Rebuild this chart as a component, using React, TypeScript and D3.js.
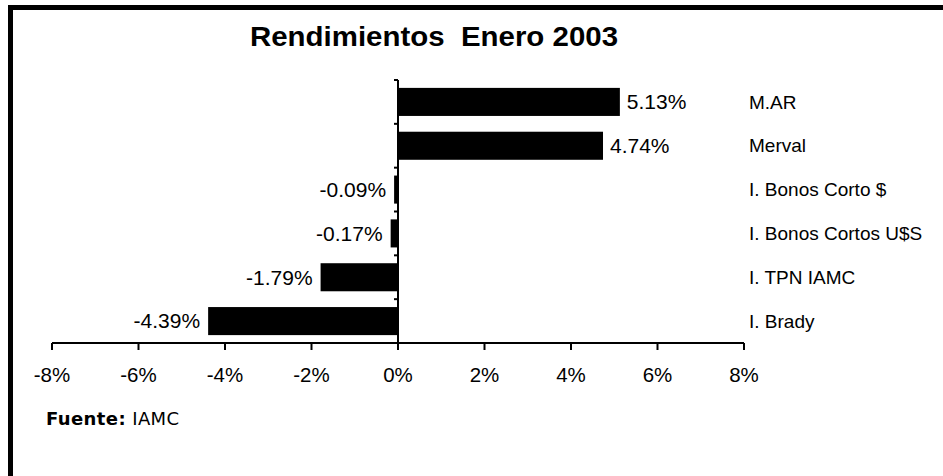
import React from "react";
import * as d3 from "d3";

const categories = ["M.AR", "Merval", "I. Bonos Corto $", "I. Bonos Cortos U$S", "I. TPN IAMC", "I. Brady"];
const values = [5.13, 4.74, -0.09, -0.17, -1.79, -4.39];
const xTicks = [-8, -6, -4, -2, 0, 2, 4, 6, 8];
const title = "Rendimientos  Enero 2003";
const sourceLabel = "Fuente:";
const sourceName = "IAMC";

const W = 943;
const H = 476;
const FONT = "Arial, 'Liberation Sans', sans-serif";

export default function App() {
  const x = d3.scaleLinear().domain([-8, 8]).range([52, 744]);
  const y = d3.scaleBand<string>().domain(categories).range([80, 343]).paddingInner(0.36).paddingOuter(0.18);
  const x0 = x(0);
  const axisY = 343;
  const step = y.step();
  const boundaries = d3.range(categories.length + 1).map((i) => 80 + i * step);
  const fmt = (v: number) => v.toFixed(2) + "%";

  return (
    <svg width={W} height={H} style={{ position: "absolute", left: 0, top: 0, background: "#fff" }}>
      <rect x={0} y={0} width={W} height={H} fill="#fff" />
      {/* frame */}
      <rect x={8} y={5} width={W - 8} height={5} fill="#000" />
      <rect x={8} y={5} width={5} height={H - 5} fill="#000" />

      <text x={250} y={46} fontFamily={FONT} fontWeight="bold" fontSize={28} textLength={368} lengthAdjust="spacingAndGlyphs" style={{ whiteSpace: "pre" }}>
        {title}
      </text>

      {/* bars */}
      {values.map((v, i) => {
        const c = categories[i];
        const bx = Math.min(x(v), x0);
        const bw = Math.abs(x(v) - x0);
        return <rect key={c} x={bx} y={y(c)!} width={bw} height={y.bandwidth()} fill="#000" />;
      })}

      {/* value labels */}
      {values.map((v, i) => {
        const c = categories[i];
        const cy = y(c)! + y.bandwidth() / 2;
        const pos = v >= 0;
        return (
          <text key={"v" + c} x={pos ? x(v) + 7 : x(v) - 8} y={cy} dy="0.35em" textAnchor={pos ? "start" : "end"} fontFamily={FONT} fontSize={21}>
            {fmt(v)}
          </text>
        );
      })}

      {/* category labels */}
      {categories.map((c) => (
        <text key={"c" + c} x={749} y={y(c)! + y.bandwidth() / 2} dy="0.35em" fontFamily={FONT} fontSize={19}>
          {c}
        </text>
      ))}

      {/* y axis */}
      <line x1={x0} x2={x0} y1={80} y2={axisY} stroke="#000" strokeWidth={2} />
      {boundaries.map((b, i) => (
        <line key={"yt" + i} x1={x0 - 4} x2={x0} y1={b} y2={b} stroke="#000" strokeWidth={2} />
      ))}

      {/* x axis */}
      <line x1={x(-8)} x2={x(8)} y1={axisY} y2={axisY} stroke="#000" strokeWidth={2} />
      {xTicks.map((t) => (
        <g key={"xt" + t}>
          <line x1={x(t)} x2={x(t)} y1={axisY} y2={axisY + 7} stroke="#000" strokeWidth={2} />
          <text x={x(t)} y={382} textAnchor="middle" fontFamily={FONT} fontSize={20.5}>
            {t + "%"}
          </text>
        </g>
      ))}

      <text x={46} y={425} fontFamily="'DejaVu Sans', sans-serif" fontSize={18} letterSpacing={0.4}>
        <tspan fontWeight="bold">{sourceLabel}</tspan>
        <tspan> {sourceName}</tspan>
      </text>
    </svg>
  );
}
